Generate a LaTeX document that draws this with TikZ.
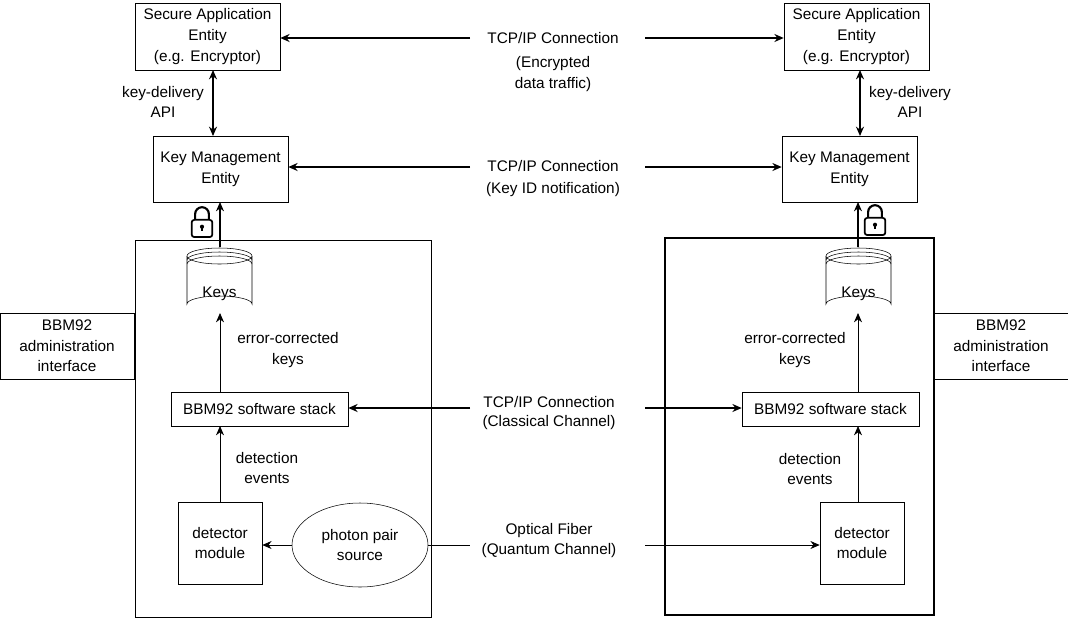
\documentclass[tikz,border=0pt]{standalone}
\usepackage{fontspec}
\setmainfont{Liberation Sans}
\usetikzlibrary{shapes.geometric,arrows.meta}
\begin{document}
\begin{tikzpicture}[x=0.75pt,y=-0.75pt,font=\fontsize{11.5}{15.5}\selectfont,
 box/.style={draw,align=center,inner sep=0pt},
 sz/.style 2 args={minimum width=#1*0.75pt,minimum height=#2*0.75pt},
 arr/.style={-{Stealth[length=7pt,width=6pt]},line width=0.9pt},
 darr/.style={{Stealth[length=7pt,width=6pt]}-{Stealth[length=7pt,width=6pt]},line width=1.3pt},
 lbl/.style={align=center,inner sep=1pt}]
\useasboundingbox (0,0) rectangle (1068,618);
% boxes
\node[box,sz={145}{67}] (saeL) at (207.5,36.5) {Secure Application\\Entity\\(e.g. Encryptor)};
\node[box,sz={145}{67}] (saeR) at (856.5,36.5) {Secure Application\\Entity\\(e.g. Encryptor)};
\node[box,sz={135}{66}] (kmeL) at (220.5,169) {Key Management\\Entity};
\node[box,sz={135}{66}] (kmeR) at (849.5,169) {Key Management\\Entity};
\draw (135,240) rectangle (431,617);
\draw[line width=1.3pt] (665,238) rectangle (934,615);
\node[box,sz={134}{66}] (admL) at (67,346) {BBM92\\administration\\interface};
\node[box,sz={134}{66}] (admR) at (1001,346) {BBM92\\administration\\interface};
\node[box,sz={177}{34}] (stL) at (259.5,409) {BBM92 software stack};
\node[box,sz={177}{34}] (stR) at (830.5,409) {BBM92 software stack};
\node[box,sz={84}{82}] (detL) at (220,543) {detector\\module};
\node[box,sz={84}{82}] (detR) at (862,543) {detector\\module};
\node[draw,ellipse,sz={136}{84},align=center,inner sep=0pt] (src) at (360,545) {photon pair\\source};
% cylinders
\foreach \cx/\nm in {219.5/cylL,858.5/cylR}{
 \begin{scope}[shift={(\cx,0)}]
 \draw[fill=white] (-32.5,256) -- (-32.5,304) arc[start angle=180,end angle=360,x radius=32.5,y radius=8] -- (32.5,256);
 \draw[fill=white] (0,256) ellipse[x radius=32.5,y radius=8];
 \draw (-32.5,260) arc[start angle=180,end angle=360,x radius=32.5,y radius=8];
 \draw (-32.5,264) arc[start angle=180,end angle=360,x radius=32.5,y radius=8];
 \end{scope}
 \node[inner sep=0pt,sz={65}{65}] (\nm) at (\cx,280) {};
 \node at (\cx,294) {Keys};
}
% locks
\foreach \lx/\ly in {202/221,875/219}{
 \begin{scope}[shift={(\lx,\ly)},scale=1.15]
 \draw[line width=1.6pt] (-6,-1) -- (-6,-6) arc[start angle=180,end angle=360,x radius=6,y radius=6] -- (6,-1);
 \draw[line width=1.3pt,rounded corners=2pt] (-9,-1) rectangle (9,14);
 \fill (0,5) circle (1.8); \fill (-0.8,5) rectangle (0.8,9);
 \end{scope}
}
% text nodes between
\node[lbl] (t1) at (553,38) {TCP/IP Connection};
\node[lbl] at (553,74) {(Encrypted\\data traffic)};
\node[lbl] (t2) at (553,166) {TCP/IP Connection};
\node[lbl] at (553,190) {(Key ID notification)};
\node[lbl] (t3) at (549,402) {TCP/IP Connection};
\node[lbl] at (549,423) {(Classical Channel)};
\node[lbl] (t4) at (549,531) {Optical Fiber};
\node[lbl] at (549,551) {(Quantum Channel)};
\coordinate (a1) at (470,38); \coordinate (b1) at (645,38);
\coordinate (a2) at (470,167); \coordinate (b2) at (645,167);
\coordinate (a3) at (470,408); \coordinate (b3) at (645,408);
\coordinate (a4) at (470,545); \coordinate (b4) at (645,545);
\draw[arr,line width=1.3pt] (a1) -- (saeL.east |- a1);
\draw[arr,line width=1.3pt] (b1) -- (saeR.west |- b1);
\draw[arr,line width=1.3pt] (a2) -- (kmeL.east |- a2);
\draw[arr,line width=1.3pt] (b2) -- (kmeR.west |- b2);
\draw[arr,line width=1.3pt] (a3) -- (stL.east |- a3);
\draw[arr,line width=1.3pt] (b3) -- (stR.west |- b3);
\draw (src.east) -- (a4);
\draw[arr,line width=0.7pt] (b4) -- (detR.west |- b4);
\draw[arr,line width=0.7pt] (src.west) -- (detL.east |- src.west);
% vertical
\draw[darr] (213,70) -- (213,136);
\draw[darr] (860,70) -- (860,136);
\node[lbl] at (163,102) {key-delivery\\API};
\node[lbl] at (910,102) {key-delivery\\API};
\draw[arr] (220,247) -- (220,202);
\draw[arr] (858,247) -- (858,202);
\draw[arr,line width=0.6pt] (220,392) -- (220,313);
\draw[arr,line width=0.6pt] (858,392) -- (858,313);
\node[lbl] at (288,350) {error-corrected\\keys};
\node[lbl] at (795,350) {error-corrected\\keys};
\draw[arr,line width=0.6pt] (220,502) -- (220,426);
\draw[arr,line width=0.6pt] (858,502) -- (858,426);
\node[lbl] at (267,468) {detection\\events};
\node[lbl] at (810,469) {detection\\events};
\end{tikzpicture}
\end{document}
